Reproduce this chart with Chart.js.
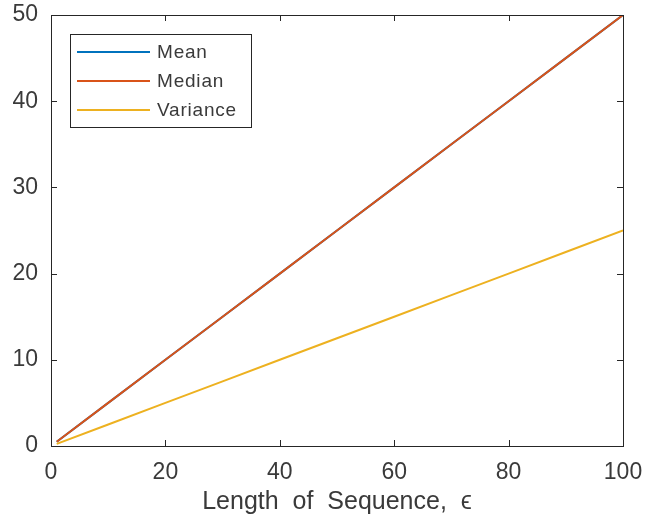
<!DOCTYPE html>
<html>
<head>
<meta charset="utf-8">
<script src="https://cdn.jsdelivr.net/npm/chart.js@4/dist/chart.umd.min.js"></script>
<style>
  body { margin: 0; background: #fff; }
  #wrap { width: 645px; height: 522px; }
</style>
</head>
<body>
<div id="wrap"><canvas id="chart"></canvas></div>
<script>
// values
var seqLength = [1, 10, 20, 30, 40, 50, 60, 70, 80, 90, 100];
var meanVals = [0.5, 5, 10, 15, 20, 25, 30, 35, 40, 45, 50];
var medianVals = [0.5, 5, 10, 15, 20, 25, 30, 35, 40, 45, 50];
var varianceVals = [0.25, 2.5, 5, 7.5, 10, 12.5, 15, 17.5, 20, 22.5, 25];
var xTicks = [0, 20, 40, 60, 80, 100];
var yTicks = [0, 10, 20, 30, 40, 50];

var FONT = "'Liberation Sans', Arial, sans-serif";
var TEXT = '#3a3a3a';

function toPoints(xs, ys){
    var pts = [];
    for(var i = 0; i < xs.length; i++){
        pts.push({x: xs[i], y: ys[i]});
    }
    return pts;
}

function makeSet(label, values, color, order){
    return {
        label: label,
        data: toPoints(seqLength, values),
        borderColor: color,
        backgroundColor: color,
        borderWidth: 2,
        pointRadius: 0,
        fill: false,
        tension: 0,
        order: order
    };
}

// box around the axes + inward ticks on all four sides (matlab look)
var boxPlugin = {
    id: 'box',
    afterDatasetsDraw: function(chart){
        var ctx = chart.ctx;
        var a = chart.chartArea;
        var xs = chart.scales.x, ys = chart.scales.y;
        ctx.save();
        ctx.strokeStyle = '#262626';
        ctx.lineWidth = 1;
        ctx.strokeRect(a.left + 0.5, a.top + 0.5, a.right - a.left, a.bottom - a.top);
        ctx.beginPath();
        xTicks.forEach(function(t){
            var px = Math.round(xs.getPixelForValue(t)) + 0.5;
            ctx.moveTo(px, a.bottom); ctx.lineTo(px, a.bottom - 6);
            ctx.moveTo(px, a.top); ctx.lineTo(px, a.top + 6);
        });
        yTicks.forEach(function(t){
            var py = Math.round(ys.getPixelForValue(t)) + 0.5;
            ctx.moveTo(a.left, py); ctx.lineTo(a.left + 6, py);
            ctx.moveTo(a.right, py); ctx.lineTo(a.right - 6, py);
        });
        ctx.stroke();
        ctx.restore();
    }
};

// legend drawn inside the plot, top-left
var legendPlugin = {
    id: 'innerLegend',
    afterDraw: function(chart){
        var ctx = chart.ctx;
        var a = chart.chartArea;
        var x0 = a.left + 19, y0 = a.top + 19;
        var w = 181, h = 93;
        ctx.save();
        ctx.fillStyle = '#fff';
        ctx.fillRect(x0, y0, w, h);
        ctx.strokeStyle = '#262626';
        ctx.lineWidth = 1;
        ctx.strokeRect(x0 + 0.5, y0 + 0.5, w, h);
        ctx.font = '19px ' + FONT;
        ctx.letterSpacing = '0.8px';
        ctx.textBaseline = 'middle';
        chart.data.datasets.forEach(function(ds, i){
            var yy = y0 + 18 + i * 29;
            ctx.strokeStyle = ds.borderColor;
            ctx.lineWidth = 2;
            ctx.beginPath();
            ctx.moveTo(x0 + 7, yy); ctx.lineTo(x0 + 80, yy);
            ctx.stroke();
            ctx.fillStyle = TEXT;
            ctx.fillText(ds.label, x0 + 87, yy + 1);
        });
        ctx.restore();
    }
};

var chart = new Chart(document.getElementById('chart'), {
    type: 'line',
    data: {
        datasets: [
            makeSet('Mean', meanVals, '#0072BD', 3),
            makeSet('Median', medianVals, '#D95319', 2),
            makeSet('Variance', varianceVals, '#EDB120', 1)
        ]
    },
    options: {
        responsive: true,
        maintainAspectRatio: false,
        animation: false,
        layout: { padding: { top: 15, right: 22, left: 0, bottom: 0 } },
        plugins: { legend: { display: false }, tooltip: { enabled: false } },
        scales: {
            x: {
                type: 'linear',
                min: 0, max: 100,
                afterBuildTicks: function(s){ s.ticks = xTicks.map(function(v){ return {value: v}; }); },
                afterFit: function(s){ s.height = 76; s.paddingLeft = 0; s.paddingRight = 0; },
                grid: { display: false, drawTicks: false },
                border: { display: false },
                ticks: { color: TEXT, font: { family: FONT, size: 23 }, padding: 13, maxRotation: 0 },
                title: { display: true, text: 'Length  of  Sequence,  \u03F5', color: TEXT, font: { family: FONT, size: 25 }, padding: { top: 0, bottom: 5 } }
            },
            y: {
                type: 'linear',
                min: 0, max: 50,
                afterBuildTicks: function(s){ s.ticks = yTicks.map(function(v){ return {value: v}; }); },
                afterFit: function(s){ s.width = 51; s.paddingTop = 0; s.paddingBottom = 0; },
                grid: { display: false, drawTicks: false },
                border: { display: false },
                ticks: { color: TEXT, font: { family: FONT, size: 23 }, padding: 13 }
            }
        }
    },
    plugins: [boxPlugin, legendPlugin]
});
</script>
</body>
</html>
